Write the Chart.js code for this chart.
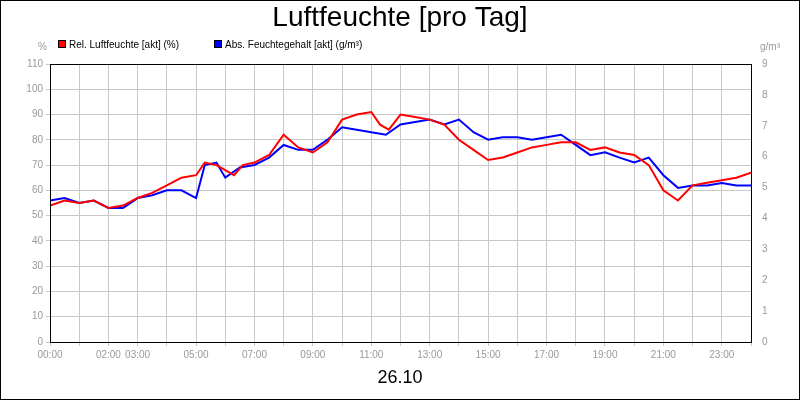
<!DOCTYPE html>
<html><head><meta charset="utf-8">
<script src="https://cdn.jsdelivr.net/npm/chart.js@4"></script>
<style>html,body{margin:0;padding:0;background:#fff}#w{width:800px;height:400px;position:relative;box-sizing:border-box}canvas{display:block}</style>
</head><body><div id="w"><canvas id="c" width="800" height="400"></canvas></div>
<script>
const hours=[0,0.5,1,1.5,2,2.5,3,3.5,4,4.5,5,5.3,5.7,6,6.3,6.6,7,7.5,8,8.5,9,9.5,10,10.5,11,11.3,11.6,12,12.5,13,13.5,14,14.5,15,15.5,16,16.5,17,17.5,18,18.5,19,19.5,20,20.5,21,21.5,22,22.5,23,23.5,24];
const relHum=[54,56,55,56,53,54,57,59,62,65,66,71,70,68,66,70,71,74,82,77,75,79,88,90,91,86,84,90,89,88,86,80,76,72,73,75,77,78,79,79,76,77,75,74,70,60,56,62,63,64,65,67];
const absHours=[0,0.5,1,1.5,2,2.5,3,3.5,4,4.5,5,5.3,5.7,6,6.5,7,7.5,8,8.5,9,9.5,10,10.5,11,11.5,12,12.5,13,13.5,14,14.5,15,15.5,16,16.5,17,17.5,18,18.5,19,19.5,20,20.5,21,21.5,22,22.5,23,23.5,24];
const absHum=[4.58,4.66,4.5,4.58,4.34,4.34,4.66,4.75,4.91,4.91,4.66,5.73,5.81,5.32,5.65,5.73,5.97,6.38,6.22,6.22,6.55,6.95,6.87,6.79,6.71,7.04,7.12,7.2,7.04,7.2,6.79,6.55,6.63,6.63,6.55,6.63,6.71,6.38,6.05,6.14,5.97,5.81,5.97,5.4,4.99,5.07,5.07,5.15,5.07,5.07];
const shownHours=[0,2,3,5,7,9,11,13,15,17,19,21,23];
const pad=n=>String(n).padStart(2,'0')+':00';
const deco={id:'deco',afterDraw(ch){const c=ch.ctx,a=ch.chartArea;c.save();
c.strokeStyle='#000';c.lineWidth=1;c.strokeRect(a.left+0.5,a.top+0.5,a.right-a.left,a.bottom-a.top);
c.strokeRect(0.5,0.5,799,399);
c.fillStyle='#000';c.textAlign='center';c.textBaseline='middle';
c.font='28px Arial, "Liberation Sans"';c.fillText('Luftfeuchte [pro Tag]',400,18);
c.font='18px Arial, "Liberation Sans"';c.fillText('26.10',400,378);
c.font='10px Arial, "Liberation Sans"';c.fillStyle='#999';
c.textAlign='left';c.fillText('%',38,47);c.textAlign='right';c.fillText('g/m³',780,47);
c.textAlign='left';c.fillStyle='#000';
c.fillStyle='#f00';c.fillRect(58,40,8,8);c.strokeStyle='#000';c.strokeRect(58.5,40.5,7,7);
c.fillStyle='#000';c.fillText('Rel. Luftfeuchte [akt] (%)',69,45);
c.fillStyle='#00f';c.fillRect(214,40,8,8);c.strokeRect(214.5,40.5,7,7);
c.fillStyle='#000';c.fillText('Abs. Feuchtegehalt [akt] (g/m³)',225,45);
c.restore();}};
const tickFont={family:'Arial, "Liberation Sans"',size:10};
new Chart(document.getElementById('c'),{type:'line',
data:{datasets:[
{data:hours.map((h,i)=>({x:h,y:relHum[i]})),borderColor:'#f00',borderWidth:2,pointRadius:0,yAxisID:'y',tension:0},
{data:absHours.map((h,i)=>({x:h,y:absHum[i]})),borderColor:'#00f',borderWidth:2,pointRadius:0,yAxisID:'y2',tension:0}]},
options:{responsive:false,animation:false,layout:{padding:{top:64,bottom:0,left:0,right:0}},
plugins:{legend:{display:false},tooltip:{enabled:false}},
scales:{
x:{type:'linear',min:0,max:24,ticks:{stepSize:1,autoSkip:false,maxRotation:0,color:'#999',font:tickFont,callback:v=>shownHours.includes(v)?pad(v):''},grid:{color:'#c8c8c8',drawTicks:true,tickLength:4},border:{display:false},afterFit(s){s.height=58}},
y:{position:'left',min:0,max:110,ticks:{stepSize:10,color:'#999',font:tickFont},grid:{color:'#c8c8c8',tickLength:4},border:{display:false},afterFit(s){s.width=50}},
y2:{position:'right',min:0,max:9,ticks:{stepSize:1,color:'#999',font:tickFont},grid:{display:false},border:{display:false},afterFit(s){s.width=49}}}},
plugins:[deco]});
</script></body></html>
